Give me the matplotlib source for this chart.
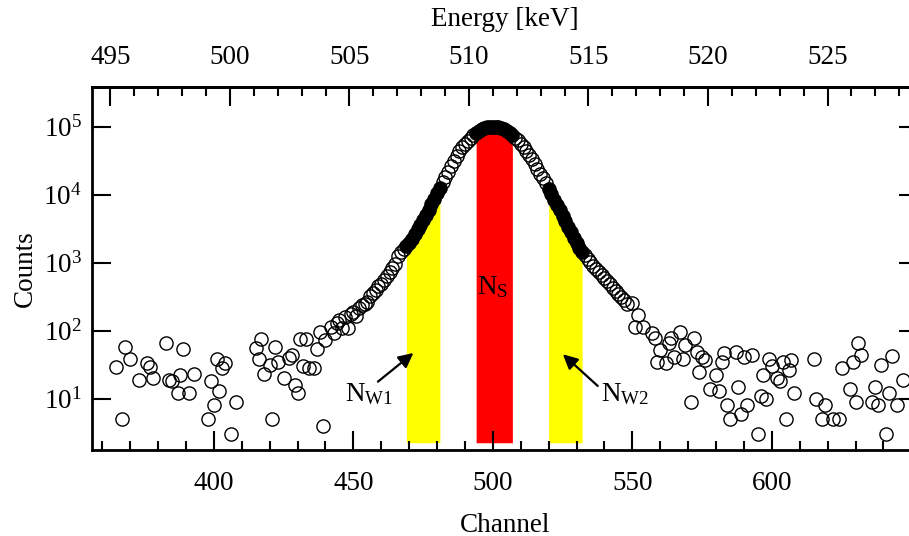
import matplotlib.pyplot as plt
import matplotlib.ticker as ticker
import numpy as np

plt.rcParams['font.family'] = ['Liberation Serif', 'DejaVu Serif']
plt.rcParams['mathtext.fontset'] = 'custom'
plt.rcParams['mathtext.rm'] = 'Liberation Serif'
plt.rcParams['mathtext.it'] = 'Liberation Serif:italic'
plt.rcParams['font.size'] = 19.5

# scattered background, left of the peak
bg_left_ch = [365, 367, 368, 370, 373, 376, 377, 378, 383, 384, 385, 387, 388, 389, 391,
              393, 398, 399, 400, 401, 402, 403, 404, 406, 408, 415, 416, 417, 418, 420,
              421, 422, 423, 425, 427, 428, 429, 430, 431, 432, 433, 434, 436, 437, 438,
              439, 440, 442, 443, 444]
bg_left_counts = [29, 5, 57, 38, 19, 33, 29, 20, 67, 19, 18, 12, 22, 53, 12,
                  23, 5, 18, 8, 38, 13, 28, 33, 3, 9, 55, 39, 75, 23, 31,
                  5, 58, 35, 20, 40, 44, 16, 12, 75, 30, 75, 28, 28, 53, 95,
                  4, 73, 114, 92, 130]

# annihilation peak, channel 445..548
peak_ch = list(range(445, 549))
peak_counts = [145, 110, 160, 108, 175, 190, 165, 213, 240, 250, 267, 320, 356, 400, 450,
               490, 560, 630, 720, 830, 950, 1260, 1450, 1580, 1740, 1950, 2240, 2630, 3090,
               3630, 4270, 5010, 6030, 7240, 8710, 10470, 12590, 15140, 18200, 21880, 26300,
               31600, 37150, 43650, 50100, 56200, 61700, 69200, 75900, 81300, 87100, 91200,
               95500, 97700, 100000, 100500, 100000, 97700, 95500, 91200, 87100, 81300, 75900,
               69200, 63100, 56200, 50100, 43650, 38000, 33100, 28200, 24000, 20400, 17400,
               14800, 12300, 10200, 8500, 7080, 5900, 4900, 4070, 3390, 2820, 2340, 1950,
               1660, 1450, 1290, 1150, 1020, 910, 810, 720, 650, 590, 530, 480, 430, 390,
               350, 310, 280, 250]

# scattered background, right of the peak
bg_right_ch = [550, 551, 552, 554, 557, 558, 559, 560, 562, 563, 564, 565, 567, 568, 569,
               571, 572, 573, 574, 575, 576, 578, 580, 581, 582, 583, 584, 585, 587, 588,
               589, 590, 591, 593, 595, 596, 597, 598, 599, 600, 602, 603, 604, 605, 606,
               607, 608, 615, 616, 618, 619, 622, 624, 625, 628, 629, 630, 631, 632, 636,
               637, 638, 639, 641, 642, 643, 645, 647]
bg_right_counts = [253, 115, 170, 115, 92, 77, 35, 52, 33, 65, 77, 41, 97, 39, 62,
                   9, 77, 49, 25, 41, 37, 14, 22, 13, 35, 47, 8, 5, 49, 15,
                   6, 41, 8, 44, 3, 11, 22, 10, 39, 30, 20, 18, 35, 5, 26,
                   37, 12, 38, 10, 5, 8, 5, 5, 28, 14, 35, 9, 67, 44, 9,
                   15, 8, 31, 3, 12, 42, 8, 19]

# integration windows: N_W1, N_S, N_W2
band_lo = [469, 494, 520]
band_hi = [481, 507, 532]
band_colors = ['#ffff00', '#ff0000', '#ffff00']
band_floor = 2.25

channel_ticks = [400, 450, 500, 550, 600]
energy_ticks = [495, 500, 505, 510, 515, 520, 525]

# energy calibration (keV)
e_ref = 511.0
ch_ref = 500.0
kev_per_ch = 0.1167


def ch2e(c):
    return e_ref + kev_per_ch * (np.asarray(c) - ch_ref)


def e2ch(e):
    return ch_ref + (np.asarray(e) - e_ref) / kev_per_ch


ch = np.array(bg_left_ch + peak_ch + bg_right_ch)
counts = np.array(bg_left_counts + peak_counts + bg_right_counts, dtype=float)

in_band = np.zeros(len(ch), dtype=bool)
for lo, hi in zip(band_lo, band_hi):
    in_band |= (ch >= lo) & (ch <= hi)

fig = plt.figure(figsize=(9.09, 5.36), dpi=100)
ax = fig.add_axes([91.7 / 909, 86 / 536, (918 - 91.7) / 909, (450 - 87) / 536])

for lo, hi, col in zip(band_lo, band_hi, band_colors):
    m = (ch >= lo) & (ch <= hi)
    ax.fill_between(ch[m], band_floor, counts[m], color=col, lw=0, zorder=1)

ax.plot(ch[~in_band], counts[~in_band], 'o', ms=9.5, mfc='none', mec='black', mew=1.0, zorder=3)
ax.plot(ch[in_band], counts[in_band], 'o', ms=9.5, mfc='black', mec='black', mew=1.0, zorder=3)

ax.set_yscale('log')
ax.set_xlim(356.2, 652.4)
ax.set_ylim(1.76, 3.84e5)

ax.xaxis.set_major_locator(ticker.FixedLocator(channel_ticks))
ax.xaxis.set_minor_locator(ticker.MultipleLocator(10))
ax.yaxis.set_major_locator(ticker.LogLocator(base=10, numticks=10))
ax.yaxis.set_minor_locator(ticker.NullLocator())
ax.tick_params(which='both', direction='in', width=1.5, top=False, right=True)
ax.tick_params(which='major', length=13.5)
ax.tick_params(which='minor', length=6.5)
ax.tick_params(axis='x', pad=15)
ax.tick_params(axis='y', pad=7)
for s in ax.spines.values():
    s.set_linewidth(2)

secax = ax.secondary_xaxis('top', functions=(ch2e, e2ch))
secax.xaxis.set_major_locator(ticker.FixedLocator(energy_ticks))
secax.xaxis.set_minor_locator(ticker.MultipleLocator(1))
secax.tick_params(which='both', direction='in', width=1.5)
secax.tick_params(which='major', length=13.5, pad=12)
secax.tick_params(which='minor', length=6.5)
secax.spines['top'].set_linewidth(2)
secax.set_xlabel('Energy [keV]', labelpad=14)

ax.set_xlabel('Channel', labelpad=12)
ax.set_ylabel('Counts', labelpad=4)

ax.text(500, 430, r'N$_\mathregular{S}$', ha='center', va='center', zorder=4)
ax.text(455.5, 11.5, r'N$_\mathregular{W1}$', ha='center', va='center')
ax.text(547.5, 11.5, r'N$_\mathregular{W2}$', ha='center', va='center')

arrow = dict(arrowstyle='-|>', color='black', lw=1.6, mutation_scale=22, shrinkA=0, shrinkB=0)
ax.annotate('', xy=(471.5, 47), xytext=(458.8, 17.8), arrowprops=arrow)
ax.annotate('', xy=(525.1, 45), xytext=(537.6, 15.4), arrowprops=arrow)

plt.savefig('out.png', dpi=100)
